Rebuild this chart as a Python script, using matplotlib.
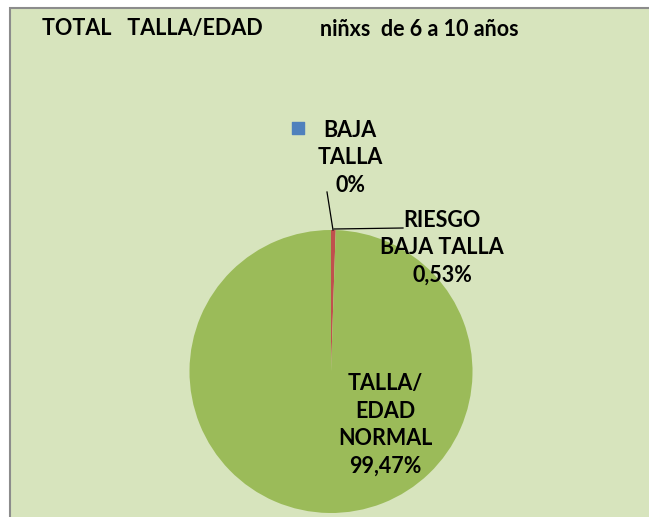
import matplotlib
matplotlib.use("Agg")
import matplotlib.pyplot as plt
from matplotlib.patches import Rectangle
import numpy as np

# data
categories = ["BAJA\nTALLA", "RIESGO\nBAJA TALLA", "TALLA/\nEDAD\nNORMAL"]
values = [0.0, 0.53, 99.47]
pct_labels = ["0%", "0,53%", "99,47%"]
colors = ["#4F81BD", "#C0504D", "#9BBB59"]

W, H = 649, 517
plt.rcParams["font.family"] = ["Lato", "DejaVu Sans"]

fig = plt.figure(figsize=(W / 100, H / 100), dpi=100)
fig.patch.set_facecolor("white")

# light green chart area with grey border on top/left
fig.patches.append(Rectangle((10 / W, -0.01), 1, 1.01 - 8 / H, transform=fig.transFigure,
                             facecolor="#D7E4BD", edgecolor="#8C8C8C", lw=1.5, zorder=-5))

# pie: center (331, 371.5) px, radius 141.5 px
cx, cy, r = 331, 371.5, 141.5
ax = fig.add_axes([(cx - r) / W, (H - cy - r) / H, 2 * r / W, 2 * r / H])
ax.set_zorder(1)
ax.patch.set_visible(False)
wedges, _ = ax.pie(values, colors=colors, startangle=90, counterclock=False,
                   radius=1, wedgeprops=dict(linewidth=0))
ax.set_xlim(-1, 1)
ax.set_ylim(-1, 1)
ax.axis("off")

def px(x, y):
    return (x - cx) / r, (cy - y) / r

fs = 15.5
kw = dict(fontsize=fs, fontweight="bold", ha="center", va="center",
          linespacing=1.38, color="black", clip_on=False)

# BAJA TALLA label + leader line
tx, ty = px(350, 158)
ax.text(tx, ty, categories[0] + "\n" + pct_labels[0], **kw)
ax.plot(*zip(px(333, 230), px(327, 192)), color="black", lw=0.9, clip_on=False)
bx, by = px(298, 128)
ax.scatter([bx], [by], marker="s", s=75, color=colors[0], clip_on=False)

# RIESGO BAJA TALLA label + leader line
tx, ty = px(442, 248)
ax.text(tx, ty, categories[1] + "\n" + pct_labels[1], **kw)
ax.plot(*zip(px(334, 229), px(403, 228)), color="black", lw=0.9, clip_on=False)

# NORMAL label inside the pie
tx, ty = px(385, 425)
ax.text(tx, ty, categories[2] + "\n" + pct_labels[2], **kw)

# title
fig.text(42 / W, 1 - 29 / H, "TOTAL   TALLA/EDAD", fontsize=fs, fontweight="bold",
         va="center", ha="left")
fig.text(320 / W, 1 - 29 / H, "niñxs  de 6 a 10 años", fontsize=fs, fontweight="bold",
         va="center", ha="left")

fig.savefig("out.png", dpi=100)
